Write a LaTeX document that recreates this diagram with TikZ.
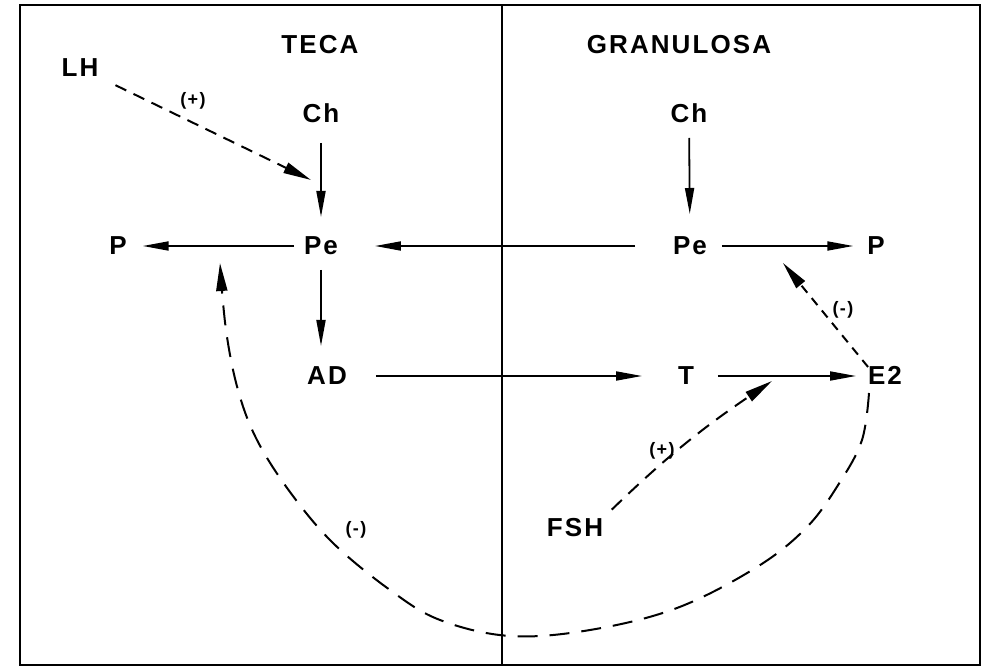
\documentclass[tikz,border=0pt]{standalone}
\usepackage{fontspec}
\setmainfont{Liberation Sans}[LetterSpace=8]
\usetikzlibrary{arrows.meta}
\begin{document}
\begin{tikzpicture}[x=1pt,y=-1pt,
  lbl/.style={font=\fontsize{26}{30}\selectfont\bfseries, inner sep=0pt, outer sep=0pt, text height=18pt, text depth=0pt},
  sgn/.style={font=\fontsize{18}{22}\selectfont\bfseries, inner sep=0pt},
  arr/.style={line width=1.8pt, -{Triangle[length=26pt,width=9pt]}},
  dsh/.style={line width=2pt, dash pattern=on 12pt off 8pt, -{Triangle[length=28pt,width=11pt]}},
]
\useasboundingbox (0,0) rectangle (986,668);
\draw[line width=2.5pt] (20,5) rectangle (980,665);
\coordinate (divtop) at (502,5);
\coordinate (divbot) at (502,665);
\draw[line width=1.8pt] (divtop) -- (divbot);

\node[lbl] (teca) at (320,45) {TECA};
\node[lbl] (gran) at (679,45) {GRANULOSA};
\node[lbl] (lh) at (80,68) {LH};
\node[lbl] (chl) at (321,114) {Ch};
\node[lbl] (chr) at (689,114) {Ch};
\node[lbl] (pl) at (118,246) {P};
\node[lbl] (pel) at (321,246) {Pe};
\node[lbl] (per) at (690,246) {Pe};
\node[lbl] (pr) at (876,246) {P};
\node[lbl] (ad) at (327,376) {AD};
\node[lbl] (t) at (686,376) {T};
\node[lbl] (e2) at (885,376) {E2};
\node[lbl] (fsh) at (575,527) {FSH};

\draw[arr, shorten <=20pt, shorten >=20pt] (chl) -- (pel);
\draw[arr, shorten <=10pt, shorten >=16pt] (pel) -- (pl);
\draw[arr, shorten <=38pt, shorten >=37pt] (per) -- (pel);
\draw[arr, shorten <=15pt, shorten >=21pt] (pel) -- (pel |- ad.north);
\draw[arr, shorten <=29pt, shorten >=36pt] (ad) -- (t);
\draw[arr, shorten <=15pt, shorten >=23pt] (chr) -- (per);
\draw[arr, shorten <=15pt, shorten >=14pt] (per) -- (pr);
\draw[arr, shorten <=24pt, shorten >=12pt] (t) -- (e2);

\coordinate (lhtip) at (311,180);
\draw[dsh, shorten <=19pt] (lh) -- (lhtip);
\node[sgn] (s1) at (193,101) {(+)};

\coordinate (e2tip) at (783,263);
\draw[dsh, dash pattern=on 9pt off 7pt] (e2.north west) -- (e2tip);
\node[sgn] (s2) at (843,310) {(-)};

\coordinate (fshtip) at (772,381);
\draw[dsh, dash pattern=on 14pt off 9pt, shorten <=12pt] (fsh.north east) to[bend left=5] (fshtip);
\node[sgn] (s3) at (662,451) {(+)};

\coordinate (fbstart) at ([xshift=-16pt,yshift=-8pt]e2.south);
\coordinate (fbtip) at (220,263);
\draw[dsh, dash pattern=on 20pt off 12pt] plot[smooth, tension=0.6] coordinates {(fbstart) (862,440) (840,482) (807,527) (757,567) (677,608) (590,630) (510,636) (440,620) (390,590) (333,543) (290,492) (257,440) (238,390) (226,330) (fbtip)};
\node[sgn] (s4) at (356,530) {(-)};
\end{tikzpicture}
\end{document}
